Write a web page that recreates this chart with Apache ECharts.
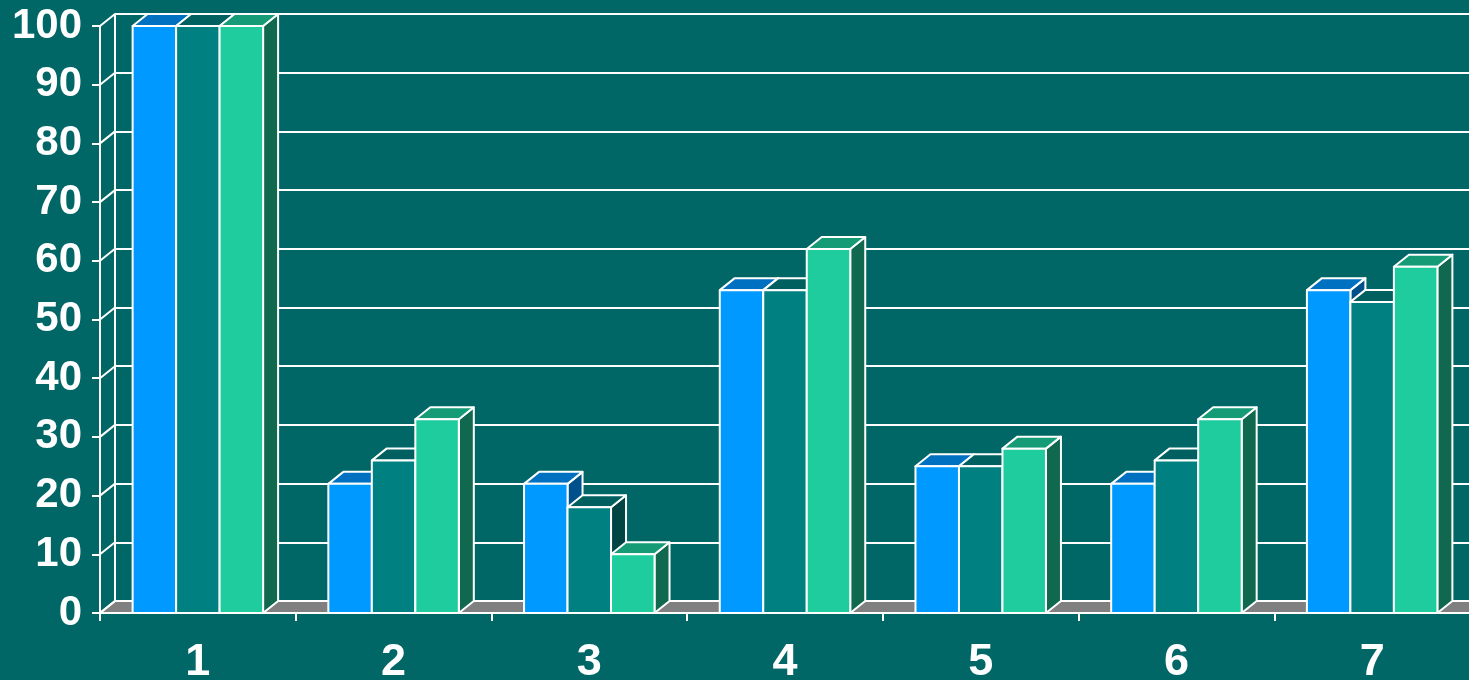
<!DOCTYPE html>
<html>
<head>
<meta charset="utf-8">
<script src="https://cdn.jsdelivr.net/npm/echarts/dist/echarts.min.js"></script>
<style>
  html, body { margin: 0; padding: 0; background: #006666; }
  #chart { width: 1469px; height: 680px; }
</style>
</head>
<body>
<div id="chart"></div>
<script>
const categories = ['1', '2', '3', '4', '5', '6', '7'];
const seriesBlue  = [100, 22, 22, 55, 25, 22, 55];
const seriesTeal  = [100, 26, 18, 55, 25, 26, 53];
const seriesGreen = [100, 33, 10, 62, 28, 33, 59];
const yTickValues = [0, 10, 20, 30, 40, 50, 60, 70, 80, 90, 100];

const DX = 15, DY = -12;
const WHITE = '#ffffff';
const FONT = "'Liberation Sans', Arial, sans-serif";

const palettes = [
  { front: '#0099ff', top: '#0070c0', side: '#00508c' },
  { front: '#008080', top: '#006060', side: '#004444' },
  { front: '#1ecc9e', top: '#169b77', side: '#10684e' }
];

function makeBar(idx) {
  const pal = palettes[idx];
  return function (params, api) {
    const ci = api.value(0), v = api.value(1);
    const top = api.coord([ci, v]);
    const base = api.coord([ci, 0]);
    const catW = api.size([1, 0])[0];
    const bw = catW * 2 / 9;
    const x0 = top[0] + (idx - 1.5) * bw;
    const x1 = x0 + bw;
    const yT = top[1], yB = base[1];
    const st = { stroke: WHITE, lineWidth: 2, lineJoin: 'round' };
    return {
      type: 'group',
      children: [
        { type: 'polygon', shape: { points: [[x1, yT], [x1 + DX, yT + DY], [x1 + DX, yB + DY], [x1, yB]] },
          style: Object.assign({ fill: pal.side }, st) },
        { type: 'polygon', shape: { points: [[x0, yT], [x1, yT], [x1 + DX, yT + DY], [x0 + DX, yT + DY]] },
          style: Object.assign({ fill: pal.top }, st) },
        { type: 'rect', shape: { x: x0, y: yT, width: bw, height: yB - yT },
          style: Object.assign({ fill: pal.front }, st) }
      ]
    };
  };
}

const chart = echarts.init(document.getElementById('chart'));
chart.setOption({
  backgroundColor: '#006666',
  animation: false,
  grid: [
    { left: 100, right: -1, top: 26, bottom: 67, containLabel: false, outerBoundsMode: 'none' },
    { left: 100 + DX, right: -1 - DX, top: 26 + DY, bottom: 67 - DY, containLabel: false, outerBoundsMode: 'none' }
  ],
  xAxis: [
    {
      type: 'category', data: categories, gridIndex: 0,
      axisLine: { show: true, lineStyle: { color: WHITE, width: 2 } },
      axisTick: { show: true, length: 8, lineStyle: { color: WHITE, width: 2 } },
      axisLabel: { color: WHITE, fontSize: 45, fontWeight: 'bold', fontFamily: FONT, margin: 27 },
      splitLine: { show: false }
    },
    {
      type: 'category', data: categories, gridIndex: 1, show: false
    }
  ],
  yAxis: [
    {
      type: 'value', min: 0, max: 100, interval: 10, gridIndex: 0,
      axisLine: { show: true, lineStyle: { color: WHITE, width: 2 } },
      axisTick: { show: true, length: 8, lineStyle: { color: WHITE, width: 2 } },
      axisLabel: { color: WHITE, fontSize: 42, fontWeight: 'bold', fontFamily: FONT, margin: 18 },
      splitLine: { show: false }
    },
    {
      type: 'value', min: 0, max: 100, interval: 10, gridIndex: 1,
      axisLine: { show: true, lineStyle: { color: WHITE, width: 2 } },
      axisTick: { show: false },
      axisLabel: { show: false },
      splitLine: { show: true, lineStyle: { color: WHITE, width: 2 } }
    }
  ],
  series: [
    {
      type: 'custom', xAxisIndex: 0, yAxisIndex: 0, z: 1,
      data: [[0, 0]],
      renderItem: function (params, api) {
        const cs = params.coordSys;
        const yB = api.coord([0, 0])[1];
        const xL = cs.x, xR = cs.x + cs.width + 40;
        return {
          type: 'polygon',
          shape: { points: [[xL, yB], [xR, yB], [xR + DX, yB + DY], [xL + DX, yB + DY]] },
          style: { fill: '#808080', stroke: WHITE, lineWidth: 2 }
        };
      }
    },
    {
      type: 'custom', xAxisIndex: 0, yAxisIndex: 0, z: 1,
      data: yTickValues.map(v => [0, v]),
      renderItem: function (params, api) {
        const cs = params.coordSys;
        const y = api.coord([0, api.value(1)])[1];
        return {
          type: 'line',
          shape: { x1: cs.x, y1: y, x2: cs.x + DX, y2: y + DY },
          style: { stroke: WHITE, lineWidth: 2 }
        };
      }
    },
    { type: 'custom', name: 'A', xAxisIndex: 0, yAxisIndex: 0, z: 2,
      data: seriesBlue.map((v, i) => [i, v]), renderItem: makeBar(0) },
    { type: 'custom', name: 'B', xAxisIndex: 0, yAxisIndex: 0, z: 3,
      data: seriesTeal.map((v, i) => [i, v]), renderItem: makeBar(1) },
    { type: 'custom', name: 'C', xAxisIndex: 0, yAxisIndex: 0, z: 4,
      data: seriesGreen.map((v, i) => [i, v]), renderItem: makeBar(2) }
  ]
});
</script>
</body>
</html>
